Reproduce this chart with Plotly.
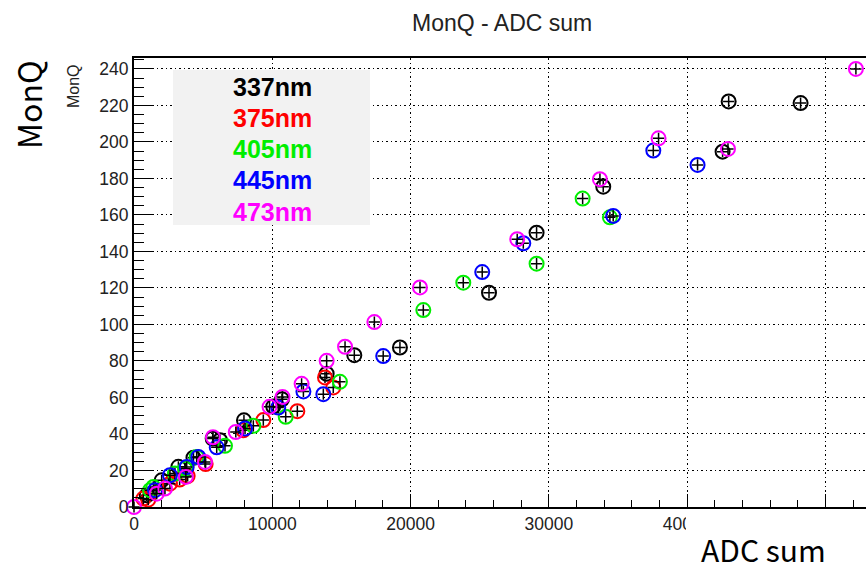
import plotly.graph_objects as go

# ---- data ----
series_names = ["337nm", "375nm", "405nm", "445nm", "473nm"]
series_colors = ["#000000", "#ff0000", "#00ee00", "#0000ff", "#ff00ff"]

x_337 = [920, 2000, 3210, 4300, 5690, 6220, 7950, 10070, 10700, 13930, 15930, 19230, 25670, 29110, 33930, 42560, 43000, 48200]
y_337 = [6.4, 14.6, 22, 27, 37.5, 36.6, 47.5, 55, 59, 73, 83.2, 87.4, 117.4, 150.3, 175.5, 194.7, 222.2, 221.3]

x_375 = [680, 1030, 2600, 3300, 3880, 5180, 7900, 9350, 11810, 13810, 14410]
y_375 = [4.6, 4.0, 12.8, 15, 17, 23.5, 42, 47.6, 52.5, 71, 65.5]

x_405 = [1160, 1400, 2960, 3700, 4530, 6580, 8630, 10970, 14890, 20920, 23810, 29110, 32440, 34410]
y_405 = [9.2, 11, 18.3, 21, 27.4, 33.5, 44.5, 49.4, 68.6, 107.9, 122.9, 133.3, 169, 158.7]

x_445 = [1520, 2600, 3810, 4650, 5980, 8030, 10430, 12250, 13690, 18020, 25180, 28150, 34650, 37550, 40750]
y_445 = [9.2, 17.4, 21.9, 27.4, 32.7, 43, 54.5, 63.3, 61.8, 82.7, 128.7, 144.5, 159.5, 195.3, 187.4]

x_473 = [0, 1640, 2240, 3750, 5130, 5710, 7360, 9800, 10740, 12120, 13930, 15260, 17380, 20680, 27710, 33690, 37930, 42950, 52200]
y_473 = [0, 7.3, 10.1, 16.5, 24.7, 38.2, 41.1, 54.9, 60.3, 67.5, 80.1, 87.8, 101.3, 120.3, 146.7, 179.6, 202, 196.2, 240]

xs = [x_337, x_375, x_405, x_445, x_473]
ys = [y_337, y_375, y_405, y_445, y_473]

x_range = [0, 52930]
y_range = [0, 246]

# ---- layout geometry ----
W, H = 866, 569
L, R, T, B = 134, 0, 58, 62
PW, PH = W - L - R, H - T - B


def px(xp):
    return (xp - L) / PW


def py(yp):
    return (H - B - yp) / PH


fig = go.Figure()
for name, col, xv, yv in zip(series_names, series_colors, xs, ys):
    fig.add_trace(go.Scatter(
        x=xv, y=yv, mode="markers", name=name, cliponaxis=False,
        marker=dict(symbol="circle-open", size=14, color=col, line=dict(width=2, color=col)),
    ))
    fig.add_trace(go.Scatter(
        x=xv, y=yv, mode="markers", showlegend=False, cliponaxis=False,
        marker=dict(symbol="cross-thin-open", size=8, color="black", line=dict(width=1.5, color="black")),
    ))

tickfont = dict(family="Liberation Sans, Arial, sans-serif", size=17.5, color="#222")

fig.update_xaxes(
    range=x_range, dtick=10000, tick0=0, tickformat="d", automargin=False,
    showgrid=True, gridcolor="black", gridwidth=1, griddash="1.5px,3px",
    ticks="inside", ticklen=13, tickwidth=1.2, tickcolor="black",
    minor=dict(dtick=2000, ticks="inside", ticklen=7, tickwidth=1.2, tickcolor="black", showgrid=False),
    showline=True, linecolor="black", linewidth=2, mirror=True,
    zeroline=False, tickfont=tickfont,
)
fig.update_yaxes(
    range=y_range, dtick=20, tick0=0, automargin=False,
    showgrid=True, gridcolor="black", gridwidth=1, griddash="1.5px,3px",
    ticks="inside", ticklen=20, tickwidth=1.2, tickcolor="black",
    minor=dict(dtick=5, ticks="inside", ticklen=10, tickwidth=1.2, tickcolor="black", showgrid=False),
    showline=True, linecolor="black", linewidth=2, mirror=False,
    zeroline=False, tickfont=tickfont,
)

shapes = [
    # legend box
    dict(type="rect", xref="paper", yref="paper", x0=px(173), x1=px(370), y0=py(225), y1=py(70),
         fillcolor="#f2f2f2", line=dict(width=0), layer="above"),
    # white patch under the big x label
    dict(type="rect", xref="paper", yref="paper", x0=px(686), x1=px(870), y0=py(580), y1=py(517),
         fillcolor="white", line=dict(width=0), layer="above"),
]

annotations = [
    dict(text="MonQ - ADC sum", x=px(502), y=py(23), xref="paper", yref="paper",
         showarrow=False, xanchor="center", yanchor="middle",
         font=dict(family="Liberation Sans, Arial, sans-serif", size=23, color="#222")),
    dict(text="MonQ", x=px(73), y=py(86), xref="paper", yref="paper", textangle=-90,
         showarrow=False, xanchor="center", yanchor="middle",
         font=dict(family="Liberation Sans, Arial, sans-serif", size=16, color="#222")),
    dict(text="MonQ", x=px(28), y=py(105), xref="paper", yref="paper", textangle=-90,
         showarrow=False, xanchor="center", yanchor="middle",
         font=dict(family="Noto Sans CJK KR, Noto Sans, sans-serif", size=32, color="black")),
    dict(text="ADC sum", x=px(763), y=py(549), xref="paper", yref="paper",
         showarrow=False, xanchor="center", yanchor="middle",
         font=dict(family="Noto Sans CJK KR, Noto Sans, sans-serif", size=30, color="black")),
]

legend_rows = [86.7, 118, 149, 180, 211.7]
for name, col, yy in zip(series_names, series_colors, legend_rows):
    annotations.append(dict(
        text="<b>%s</b>" % name, x=px(272), y=py(yy), xref="paper", yref="paper",
        showarrow=False, xanchor="center", yanchor="middle",
        font=dict(family="Liberation Sans, Arial, sans-serif", size=25, color=col)))

fig.update_layout(
    width=W, height=H,
    margin=dict(l=L, r=R, t=T, b=B, autoexpand=False),
    paper_bgcolor="white", plot_bgcolor="white",
    showlegend=False,
    shapes=shapes, annotations=annotations,
)

fig.write_html("out.html", config={"displayModeBar": False},
               post_script="document.body.style.margin='0px';document.body.style.overflow='hidden';")
